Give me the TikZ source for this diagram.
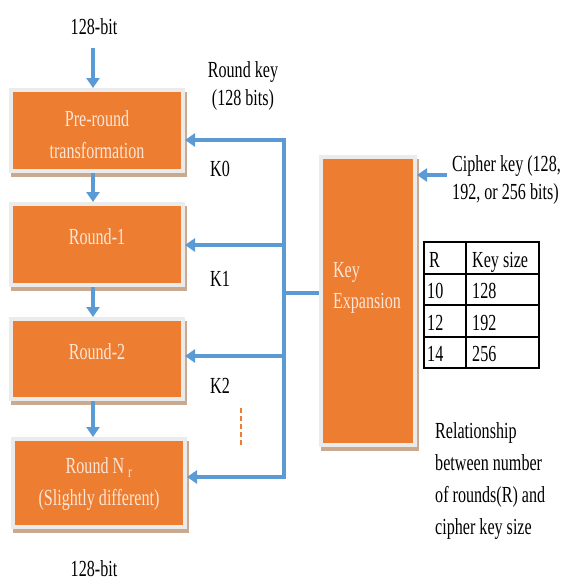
\documentclass[tikz,border=0pt]{standalone}
\usepackage{fontspec}
\setmainfont{Liberation Serif}[FakeStretch=0.7]
\usetikzlibrary{arrows.meta,shadows}
\definecolor{boxorange}{HTML}{ED7D31}
\definecolor{linkblue}{HTML}{5B9BD5}
\definecolor{framegray}{HTML}{EBEBEB}
\definecolor{shadowtan}{HTML}{C9A990}
\definecolor{boxtext}{HTML}{FBE6D8}

\begin{document}
\begin{tikzpicture}[x=1pt,y=-1pt,
  every node/.style={font=\fontsize{23}{28}\selectfont, inner sep=0pt},
  stage/.style={rectangle, fill=boxorange, draw=framegray, line width=4pt,
    drop shadow={shadow xshift=1.5pt, shadow yshift=-3.5pt, fill=shadowtan,
      draw=shadowtan, line width=4pt, opacity=1}},
  stagetext/.style={text=boxtext, align=center, font=\fontsize{23}{32}\selectfont},
  flow/.style={draw=linkblue, line width=3.2pt, -{Triangle[length=10pt,width=13pt]}},
  bus/.style={draw=linkblue, line width=3.2pt, line cap=rect},
  plain/.style={text=black},
  cell/.style={anchor=base west},
  grid/.style={draw=black, line width=1.2pt}]

\path (0,0) rectangle (563,581);

% cipher rounds, top to bottom
\node[stage, minimum width=172pt, minimum height=81pt,
  label={[stagetext, yshift=-4pt]center:Pre-round\\transformation}] (b1) at (97,130.5) {};
\node[stage, minimum width=172pt, minimum height=81pt,
  label={[stagetext, yshift=8pt]center:Round-1}] (b2) at (97,244.5) {};
\node[stage, minimum width=172pt, minimum height=80pt,
  label={[stagetext, yshift=7pt]center:Round-2}] (b3) at (97,359) {};
\node[stage, minimum width=172pt, minimum height=88pt,
  label={[stagetext, yshift=-1pt]center:Round N\,\textsubscript{r}\\(Slightly different)}] (b4) at (99,483) {};

% key schedule block
\node[stage, minimum width=94pt, minimum height=288pt] (ke) at (368,301) {};
\node[stagetext, align=left, font=\fontsize{23}{31}\selectfont] (kelabel) at (367,288) {Key\\Expansion};

% plaintext in / ciphertext out
\node[plain] (inbits) at (94,27) {128-bit};
\node[plain] (outbits) at (94,569) {128-bit};
\coordinate (inTop) at (93,48);

\draw[flow] (inTop) -- (b1.north -| inTop);
\draw[flow] (b1.south -| inTop) -- (b2.north -| inTop);
\draw[flow] (b2.south -| inTop) -- (b3.north -| inTop);
\draw[flow] (b3.south -| inTop) -- (b4.north -| inTop);

% round-key bus
\coordinate (busTop) at (284,140);
\coordinate (busK1) at (284,245);
\coordinate (busK2) at (284,356);
\coordinate (busBot) at (284,477);
\coordinate (busTap) at (284,293);

\draw[bus] (busTop) -- (busBot);
\draw[flow] (busTop) -- (busTop -| b1.east);
\draw[flow] (busK1) -- (busK1 -| b2.east);
\draw[flow] (busK2) -- (busK2 -| b3.east);
\draw[flow] (busBot) -- (busBot -| b4.east);
\draw[bus, line cap=butt] (busTap) -- (busTap -| ke.west);

\node[plain, align=center] (rk) at (243,86) {Round key\\(128 bits)};
\node[plain] (k0) at (220,169) {K0};
\node[plain] (k1) at (220,279) {K1};
\node[plain] (k2) at (220,386) {K2};

% continuation mark for the remaining round keys
\coordinate (dotsA) at (241,408);
\coordinate (dotsB) at (241,445);
\draw[boxorange, line width=1.2pt, dash pattern=on 5pt off 3pt] (dotsA) -- (dotsB);

% cipher key input
\coordinate (ckIn) at (447,175);
\draw[flow] (ckIn) -- (ckIn -| ke.east);
\node[plain, anchor=west, align=left] (ck) at (452,180) {Cipher key (128,\\192, or 256 bits)};

% rounds versus key size
\draw[grid] (424,242) rectangle (539,368);
\draw[grid] (466,242) -- (466,368);
\foreach \yy in {274,305,337} \draw[grid] (424,\yy) -- (539,\yy);
\node[cell] (tR)  at (429,267) {R};
\node[cell] (tKS) at (472,267) {Key size};
\node[cell] (t10) at (427,298.5) {10};
\node[cell] (t128) at (472,298.5) {128};
\node[cell] (t12) at (427,330) {12};
\node[cell] (t192) at (472,330) {192};
\node[cell] (t14) at (427,361.5) {14};
\node[cell] (t256) at (472,361.5) {256};

\node[plain, anchor=west, align=left, font=\fontsize{23}{32}\selectfont] (rel) at (435,481)
  {Relationship\\between number\\of rounds(R) and\\cipher key size};

\end{tikzpicture}
\end{document}
